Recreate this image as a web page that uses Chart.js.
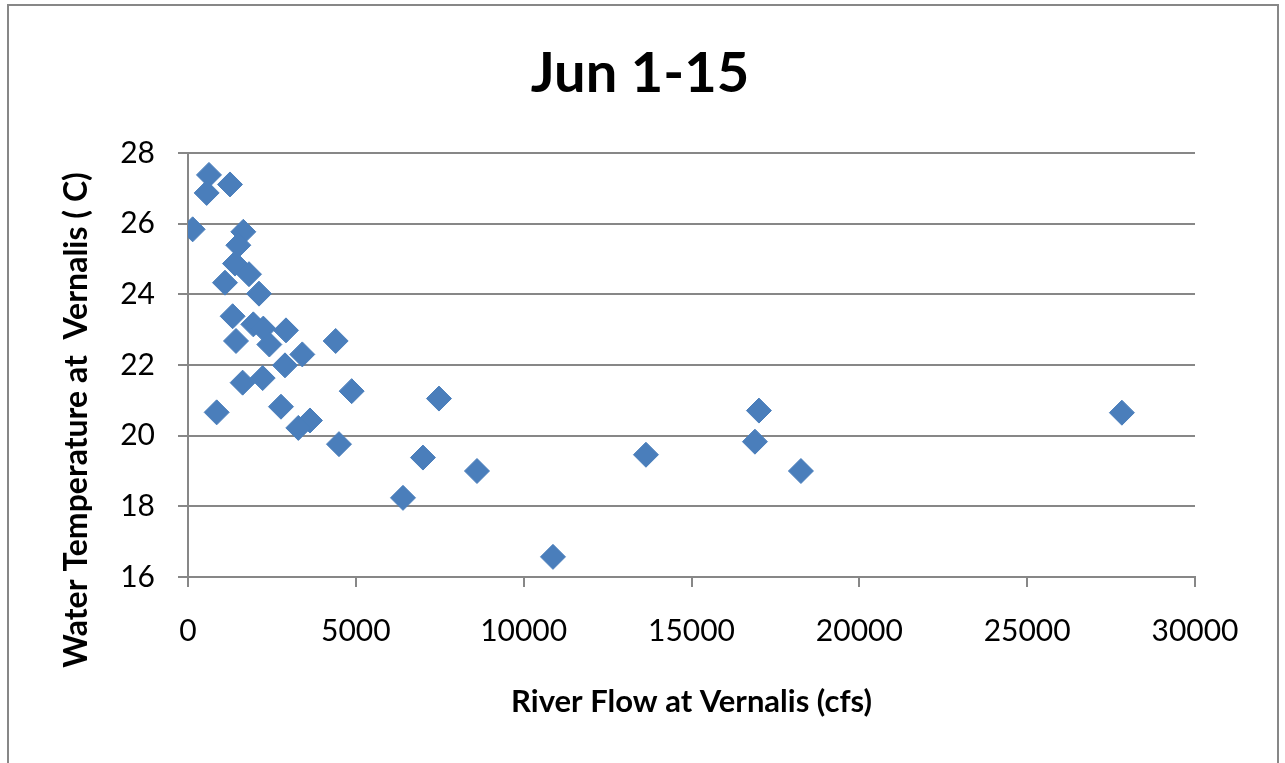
<!DOCTYPE html>
<html>
<head>
<meta charset="utf-8">
<script src="https://cdn.jsdelivr.net/npm/chart.js@4"></script>
<style>
  html, body { margin: 0; padding: 0; background: #fff; }
  #wrap { width: 1285px; height: 763px; position: relative; }
</style>
</head>
<body>
<div id="wrap"><canvas id="chart" width="1285" height="763"></canvas></div>
<script>
// river flow at Vernalis (cfs)
const flowCfs = [625, 556, 1251, 139, 1648, 1499, 1400, 1817, 1102, 2115,
                 1330, 1946, 2244, 2919, 1430, 2423, 4399, 3405, 2889, 1628,
                 2225, 4876, 854, 2770, 3634, 3286, 4498, 7477, 7000, 6405,
                 8609, 10873, 13643, 17009, 16890, 18260, 27822];
// water temperature (C)
const tempC = [27.38, 26.87, 27.11, 25.84, 25.77, 25.39, 24.87, 24.57, 24.33, 24.02,
               23.38, 23.15, 23.03, 22.98, 22.68, 22.58, 22.68, 22.30, 21.99, 21.50,
               21.63, 21.26, 20.66, 20.82, 20.43, 20.22, 19.76, 21.05, 19.38, 18.24,
               19.00, 16.57, 19.46, 20.71, 19.83, 19.00, 20.65];

const chartTitle = 'Jun 1-15';
const xTitle = 'River Flow at Vernalis (cfs)';
const yTitle = 'Water Temperature at  Vernalis ( C)';

const points = flowCfs.map((f, i) => ({ x: f, y: tempC[i] }));

const gridGrey = '#878787';
const fontFam = 'Lato, "Open Sans", sans-serif';

// outer frame, chart title and rotated y title, placed like the Excel chart
const framePlugin = {
    id: 'frame',
    afterDraw(chart) {
        const ctx = chart.ctx;
        ctx.save();
        ctx.strokeStyle = gridGrey; ctx.lineWidth = 2;
        ctx.strokeRect(8, 5, 1270, 800);
        ctx.fillStyle = '#000';
        ctx.textAlign = 'center'; ctx.textBaseline = 'alphabetic';
        ctx.font = 'bold 56px ' + fontFam;
        ctx.fillText(chartTitle, 640, 92);
        ctx.translate(77, 420);
        ctx.rotate(-Math.PI / 2);
        ctx.font = 'bold 32px ' + fontFam;
        ctx.textBaseline = 'middle';
        ctx.fillText(yTitle, 0, 0);
        ctx.restore();
    }
};

new Chart(document.getElementById('chart'), {
    type: 'scatter',
    data: {
        datasets: [{
            label: 'temp',
            data: points,
            pointStyle: 'rectRot',
            pointRadius: 12.5,
            pointHoverRadius: 12.5,
            backgroundColor: '#4a7ebb',
            borderColor: '#4a7ebb',
            borderWidth: 1
        }]
    },
    options: {
        responsive: false,
        animation: false,
        layout: { padding: { left: 8, right: 90, top: 153, bottom: 0 } },
        plugins: {
            legend: { display: false },
            tooltip: { enabled: false },
            title: { display: false }
        },
        scales: {
            x: {
                type: 'linear', min: 0, max: 30000,
                ticks: { stepSize: 5000, color: '#000', padding: 26, maxRotation: 0,
                         font: { family: fontFam, size: 30 },
                         callback: v => String(v) },
                grid: { drawOnChartArea: false, drawTicks: true, tickLength: 10, color: gridGrey, lineWidth: 2 },
                border: { color: gridGrey, width: 2 },
                title: { display: true, text: xTitle, color: '#000',
                         font: { family: fontFam, size: 31, weight: 'bold' },
                         padding: { top: 0, bottom: 42 } },
                afterFit(scale) { scale.height = 186; }
            },
            y: {
                min: 16, max: 28,
                ticks: { stepSize: 2, color: '#000', padding: 23,
                         font: { family: fontFam, size: 30 } },
                grid: { color: gridGrey, lineWidth: 2, tickLength: 10 },
                border: { color: gridGrey, width: 2 },
                afterFit(scale) { scale.width = 180; }
            }
        }
    },
    plugins: [framePlugin]
});
</script>
</body>
</html>
